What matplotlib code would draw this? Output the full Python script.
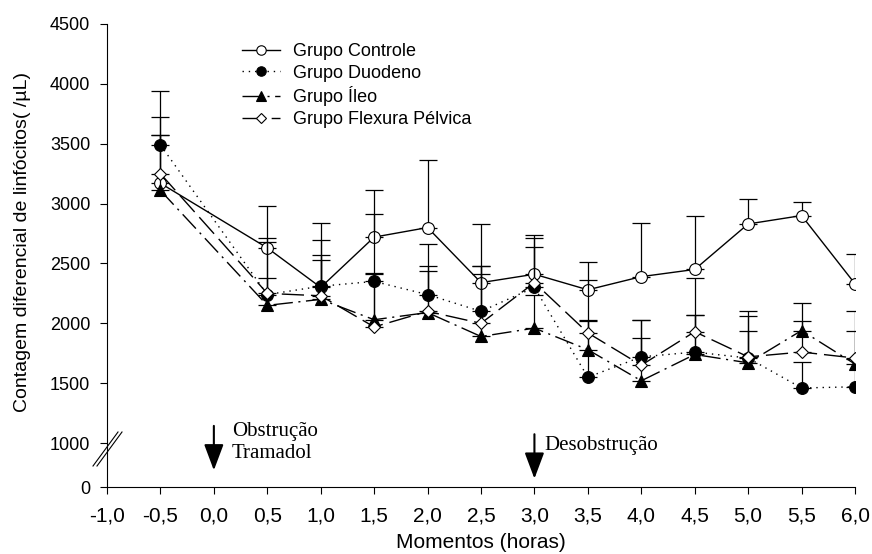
import numpy as np
import matplotlib
matplotlib.use("Agg")
import matplotlib.pyplot as plt
from matplotlib.lines import Line2D

plt.rcParams['font.family'] = ['Liberation Sans', 'DejaVu Sans']
plt.rcParams['lines.scale_dashes'] = False

# tempos (horas) e medias / desvios
tempos = [-0.5, 0.5, 1.0, 1.5, 2.0, 2.5, 3.0, 3.5, 4.0, 4.5, 5.0, 5.5, 6.0]

controle = [3170, 2630, 2300, 2720, 2800, 2340, 2410, 2280, 2390, 2450, 2830, 2900, 2330]
controle_sd = [400, 350, 540, 390, 560, 490, 330, 230, 450, 450, 210, 110, 250]

duodeno = [3490, 2240, 2310, 2350, 2240, 2100, 2300, 1550, 1720, 1760, 1710, 1460, 1470]
duodeno_sd = [450, 470, 390, 560, 420, 380, 410, 470, 310, 310, 390, 220, 230]

ileo = [3110, 2150, 2200, 2030, 2090, 1890, 1960, 1780, 1520, 1740, 1670, 1940, 1660]
ileo_sd = [465, 230, 370, 390, 350, 520, 280, 245, 360, 330, 270, 230, 280]

flexura = [3250, 2250, 2230, 1970, 2100, 2000, 2340, 1920, 1650, 1930, 1720, 1760, 1710]
flexura_sd = [470, 430, 300, 440, 380, 480, 300, 440, 380, 450, 340, 260, 390]

xticks = np.arange(-1.0, 6.01, 0.5)
yticks = [0, 1000, 1500, 2000, 2500, 3000, 3500, 4000, 4500]

W, H = 872, 554


# eixo y quebrado entre 0 e 1000
def fwd(y):
    y = np.asarray(y, dtype=float)
    return np.where(y >= 1000, y, 633 + y * 0.367)


def inv(v):
    v = np.asarray(v, dtype=float)
    return np.where(v >= 1000, v, (v - 633) / 0.367)


fig = plt.figure(figsize=(W / 100, H / 100), dpi=100)
ax = fig.add_axes([107 / W, 67 / H, 748 / W, 463 / H])
ax.set_yscale('function', functions=(fwd, inv))

series = [
    ("Grupo Controle", controle, controle_sd, 'o', 'white', '-'),
    ("Grupo Duodeno", duodeno, duodeno_sd, 'o', 'black', (0, (1, 3.5))),
    ("Grupo Íleo", ileo, ileo_sd, '^', 'black', (0, (14, 4, 1.5, 4))),
    ("Grupo Flexura Pélvica", flexura, flexura_sd, 'D', 'white', (0, (16, 5))),
]

handles = []
for nome, vals, sd, mk, fc, ls in series:
    ms = 6.5 if mk == 'D' else 8.5
    ax.errorbar(tempos, vals, yerr=[np.zeros(len(sd)), sd], fmt='none',
                ecolor='black', elinewidth=0.9, capsize=6.5, capthick=0.9)
    ax.plot(tempos, vals, color='black', lw=1.0, linestyle=ls, marker=mk,
            markersize=ms, markerfacecolor=fc, markeredgecolor='black',
            markeredgewidth=0.8)
    handles.append(Line2D([], [], color='black', lw=1.0, linestyle=ls, marker=mk,
                          markersize=ms * 0.8, markerfacecolor=fc,
                          markeredgecolor='black', markeredgewidth=0.8, label=nome))

ax.set_xlim(-1.0, 6.0)
ax.set_ylim(0, 4500)
ax.set_xticks(xticks)
ax.set_xticklabels([f"{t:.1f}".replace('.', ',') for t in xticks])
ax.set_yticks(yticks)
ax.set_yticklabels([str(v) for v in yticks])
ax.tick_params(axis='both', direction='out', length=5, width=0.8)
ax.tick_params(axis='x', pad=9, labelsize=15)
ax.tick_params(axis='y', pad=7, labelsize=13)
for s in ['top', 'right']:
    ax.spines[s].set_visible(False)
for s in ['left', 'bottom']:
    ax.spines[s].set_linewidth(0.8)

ax.legend(handles=handles, loc='upper left', bbox_to_anchor=(242 / W, 1 - 43 / H),
          bbox_transform=fig.transFigure, frameon=False, fontsize=13,
          borderpad=0, borderaxespad=0, handlelength=2.1, handletextpad=0.7,
          labelspacing=0.26)

# marcadores de eventos
trans = ax.get_xaxis_transform()
seta = dict(arrowstyle='-|>,head_length=0.8,head_width=0.3',
            color='black', lw=1.5, mutation_scale=20)
ax.annotate("", xy=(0.0, 0.03), xytext=(0.0, 0.138), xycoords=trans, textcoords=trans,
            arrowprops=seta)
ax.text(0.17, 0.096, "Obstrução\nTramadol", transform=trans, family='Liberation Serif',
        fontsize=15, ha='left', va='center', linespacing=1.2)
ax.annotate("", xy=(3.0, 0.012), xytext=(3.0, 0.12), xycoords=trans, textcoords=trans,
            arrowprops=seta)
ax.text(3.095, 0.09, "Desobstrução", transform=trans, family='Liberation Serif',
        fontsize=15, ha='left', va='center')

# marca de quebra no eixo y
for dx in (0, 4):
    fig.add_artist(Line2D([(93 + dx) / W, (118 + dx) / W],
                          [1 - (465 + 1) / H, 1 - (431 + 1) / H],
                          transform=fig.transFigure, color='black', lw=0.8))

fig.text(23 / W, 1 - 242 / H, "Contagem diferencial de linfócitos( /µL)", rotation=90,
         ha='center', va='center', fontsize=14)
fig.text(481 / W, 1 - 543 / H, "Momentos (horas)", ha='center', va='center', fontsize=15)

fig.savefig("out.png", dpi=100)
